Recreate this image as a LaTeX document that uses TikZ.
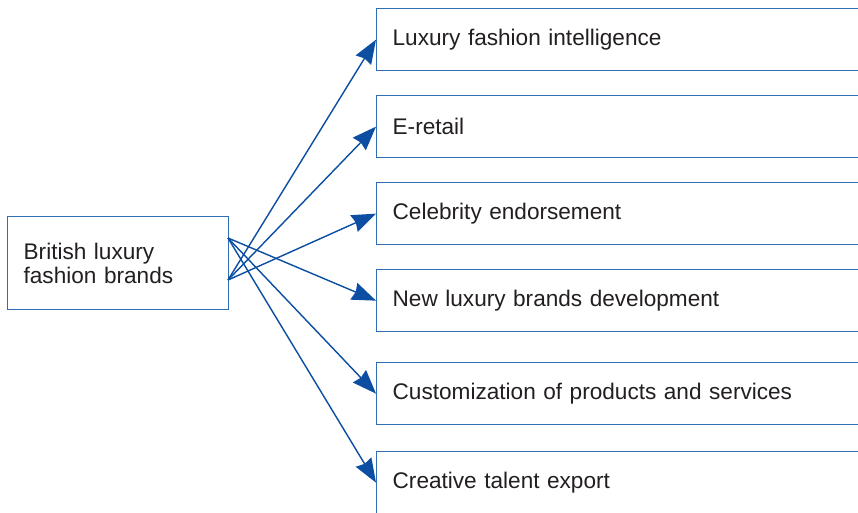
\documentclass[tikz,border=0pt]{standalone}
\usepackage{fontspec}
\setmainfont{Liberation Sans}
\usepackage{tikz}
\usetikzlibrary{arrows.meta, positioning}
\definecolor{boxblue}{HTML}{2F6DB5}
\definecolor{arrowblue}{HTML}{0B4EA2}
\definecolor{inktext}{HTML}{231F20}

\begin{document}
\begin{tikzpicture}[x=1pt, y=-1pt,
        font=\fontsize{22.6}{24}\selectfont,
        srcbox/.style={draw=boxblue, line width=1.3pt, anchor=north west, text=inktext, align=left,
            text width=189pt, inner xsep=16pt, inner ysep=0pt, minimum height=93pt},
        tgtbox/.style={draw=boxblue, line width=1.3pt, anchor=north west, text=inktext, align=left,
            text width=462pt, inner xsep=16pt, inner ysep=0pt, minimum height=62pt},
        arr/.style={-{Stealth[length=24pt, width=18pt, inset=2pt]}, line width=1.4pt, draw=arrowblue, fill=arrowblue}
    ]
        \useasboundingbox[fill=white] (0,0) rectangle (858,512);

        % SOURCE
        \node[srcbox] (brand) at (7,216) {British luxury\\fashion brands};
        \coordinate (outhi) at (228,238);
        \coordinate (outlo) at (228,280);

        % TARGETS
        \node[tgtbox] (intel)   at (376,8)   {Luxury fashion intelligence};
        \node[tgtbox] (eretail) at (376,95)  {E-retail};
        \node[tgtbox] (celeb)   at (376,182) {Celebrity endorsement};
        \node[tgtbox] (newlux)  at (376,269) {New luxury brands development};
        \node[tgtbox] (custom)  at (376,362) {Customization of products and services};
        \node[tgtbox] (talent)  at (376,451) {Creative talent export};

        % CONNECTORS
        \draw[arr] (outlo) -- (intel.west);
        \draw[arr] (outlo) -- (eretail.west);
        \draw[arr] (outlo) -- (celeb.west);
        \draw[arr] (outhi) -- (newlux.west);
        \draw[arr] (outhi) -- (custom.west);
        \draw[arr] (outhi) -- (talent.west);
    \end{tikzpicture}
\end{document}
